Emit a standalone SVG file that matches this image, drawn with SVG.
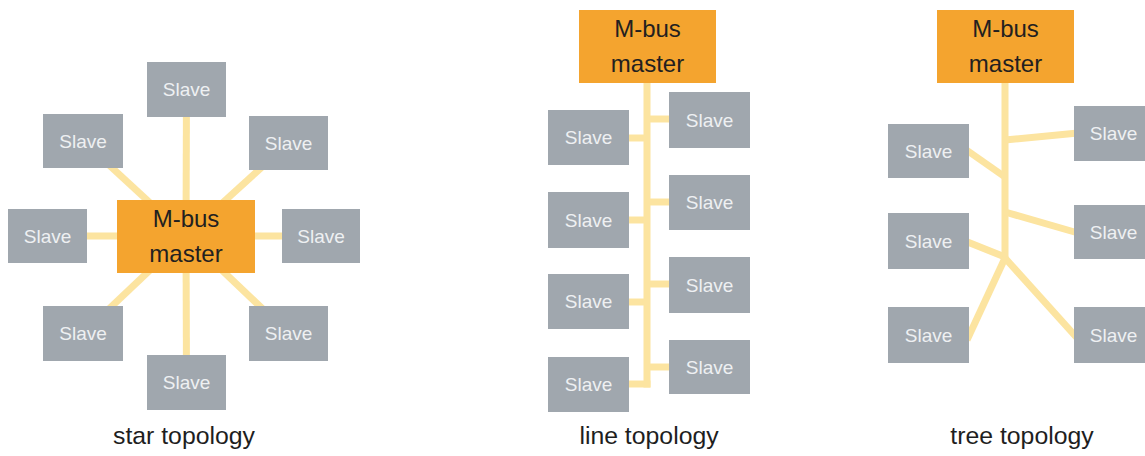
<svg xmlns="http://www.w3.org/2000/svg" width="1145" height="456" viewBox="0 0 1145 456">
<style>
.slave{fill:#A0A7AE}
.master{fill:#F4A42F}
.st{font-family:"Liberation Sans",Arial,sans-serif;font-size:19px;fill:#EEF0F2;text-anchor:middle}
.mt{font-family:"Liberation Sans",Arial,sans-serif;font-size:24px;fill:#231F20;text-anchor:middle}
.lbl{font-family:"Liberation Sans",Arial,sans-serif;font-size:24.8px;fill:#1E1E1E;text-anchor:middle}
.c{stroke:#FCE4A0;stroke-width:7;fill:none;stroke-linecap:butt}
</style>
<rect width="1145" height="456" fill="#FFFFFF"/>
<g id="connectors">
  <!-- star -->
  <line class="c" x1="186" y1="236" x2="186.5" y2="89"/>
  <line class="c" x1="186" y1="236" x2="83" y2="141"/>
  <line class="c" x1="186" y1="236" x2="288.5" y2="143"/>
  <line class="c" x1="186" y1="236" x2="47.5" y2="236"/>
  <line class="c" x1="186" y1="236" x2="321" y2="236"/>
  <line class="c" x1="186" y1="236" x2="83" y2="333.5"/>
  <line class="c" x1="186" y1="236" x2="288.5" y2="333.5"/>
  <line class="c" x1="186" y1="236" x2="186.5" y2="382"/>
  <!-- line -->
  <line class="c" x1="647" y1="80" x2="647" y2="387.5"/>
  <line class="c" x1="625" y1="138" x2="647" y2="138"/>
  <line class="c" x1="625" y1="220" x2="647" y2="220"/>
  <line class="c" x1="625" y1="302" x2="647" y2="302"/>
  <line class="c" x1="625" y1="384" x2="650.5" y2="384"/>
  <line class="c" x1="647" y1="119" x2="673" y2="119"/>
  <line class="c" x1="647" y1="202" x2="673" y2="202"/>
  <line class="c" x1="647" y1="284" x2="673" y2="284"/>
  <line class="c" x1="647" y1="367" x2="673" y2="367"/>
  <!-- tree -->
  <line class="c" x1="1005" y1="80" x2="1005" y2="260"/>
  <line class="c" x1="1005" y1="140" x2="1078" y2="133"/>
  <line class="c" x1="965" y1="149" x2="1005" y2="177"/>
  <line class="c" x1="1005" y1="212" x2="1078" y2="233"/>
  <line class="c" x1="965" y1="241" x2="1005" y2="257"/>
  <line class="c" x1="1005" y1="258" x2="967" y2="340"/>
  <line class="c" x1="1005" y1="258" x2="1078" y2="339"/>
</g>
<!-- star topology -->
<g id="star-master"><rect class="master" x="117" y="200" width="138" height="73"/><text class="mt" x="186" y="227">M-bus</text><text class="mt" x="186" y="262">master</text></g>
<g id="star-slave-top"><rect class="slave" x="147" y="62" width="79" height="55"/><text class="st" x="186.5" y="96">Slave</text></g>
<g id="star-slave-ul"><rect class="slave" x="43" y="114" width="80" height="54"/><text class="st" x="83" y="147.5">Slave</text></g>
<g id="star-slave-ur"><rect class="slave" x="249" y="116" width="79" height="54"/><text class="st" x="288.5" y="149.5">Slave</text></g>
<g id="star-slave-l"><rect class="slave" x="8" y="209" width="79" height="54"/><text class="st" x="47.5" y="242.5">Slave</text></g>
<g id="star-slave-r"><rect class="slave" x="282" y="209" width="78" height="54"/><text class="st" x="321" y="242.5">Slave</text></g>
<g id="star-slave-ll"><rect class="slave" x="43" y="306" width="80" height="55"/><text class="st" x="83" y="340">Slave</text></g>
<g id="star-slave-lr"><rect class="slave" x="249" y="306" width="79" height="55"/><text class="st" x="288.5" y="340">Slave</text></g>
<g id="star-slave-bottom"><rect class="slave" x="147" y="355" width="79" height="55"/><text class="st" x="186.5" y="389">Slave</text></g>
<g id="star-label"><text class="lbl" x="184" y="444">star topology</text></g>
<!-- line topology -->
<g id="line-master"><rect class="master" x="579" y="10" width="137" height="73"/><text class="mt" x="647.5" y="37">M-bus</text><text class="mt" x="647.5" y="72">master</text></g>
<g id="line-slave-l1"><rect class="slave" x="548" y="110" width="81" height="55"/><text class="st" x="588.5" y="144">Slave</text></g>
<g id="line-slave-l2"><rect class="slave" x="548" y="192" width="81" height="56"/><text class="st" x="588.5" y="226.5">Slave</text></g>
<g id="line-slave-l3"><rect class="slave" x="548" y="274" width="81" height="55"/><text class="st" x="588.5" y="308">Slave</text></g>
<g id="line-slave-l4"><rect class="slave" x="548" y="357" width="81" height="55"/><text class="st" x="588.5" y="391">Slave</text></g>
<g id="line-slave-r1"><rect class="slave" x="669" y="92" width="81" height="56"/><text class="st" x="709.5" y="126.5">Slave</text></g>
<g id="line-slave-r2"><rect class="slave" x="669" y="175" width="81" height="55"/><text class="st" x="709.5" y="209">Slave</text></g>
<g id="line-slave-r3"><rect class="slave" x="669" y="257" width="81" height="56"/><text class="st" x="709.5" y="291.5">Slave</text></g>
<g id="line-slave-r4"><rect class="slave" x="669" y="340" width="81" height="54"/><text class="st" x="709.5" y="373.5">Slave</text></g>
<g id="line-label"><text class="lbl" x="649" y="444">line topology</text></g>
<!-- tree topology -->
<g id="tree-master"><rect class="master" x="937" y="10" width="137" height="73"/><text class="mt" x="1005.5" y="37">M-bus</text><text class="mt" x="1005.5" y="72">master</text></g>
<g id="tree-slave-l1"><rect class="slave" x="888" y="124" width="81" height="54"/><text class="st" x="928.5" y="157.5">Slave</text></g>
<g id="tree-slave-l2"><rect class="slave" x="888" y="213" width="81" height="56"/><text class="st" x="928.5" y="247.5">Slave</text></g>
<g id="tree-slave-l3"><rect class="slave" x="888" y="307" width="81" height="56"/><text class="st" x="928.5" y="341.5">Slave</text></g>
<g id="tree-slave-r1"><rect class="slave" x="1074" y="106" width="79" height="55"/><text class="st" x="1113.5" y="140">Slave</text></g>
<g id="tree-slave-r2"><rect class="slave" x="1074" y="205" width="79" height="54"/><text class="st" x="1113.5" y="238.5">Slave</text></g>
<g id="tree-slave-r3"><rect class="slave" x="1074" y="307" width="79" height="56"/><text class="st" x="1113.5" y="341.5">Slave</text></g>
<g id="tree-label"><text class="lbl" x="1022" y="444">tree topology</text></g>
</svg>
